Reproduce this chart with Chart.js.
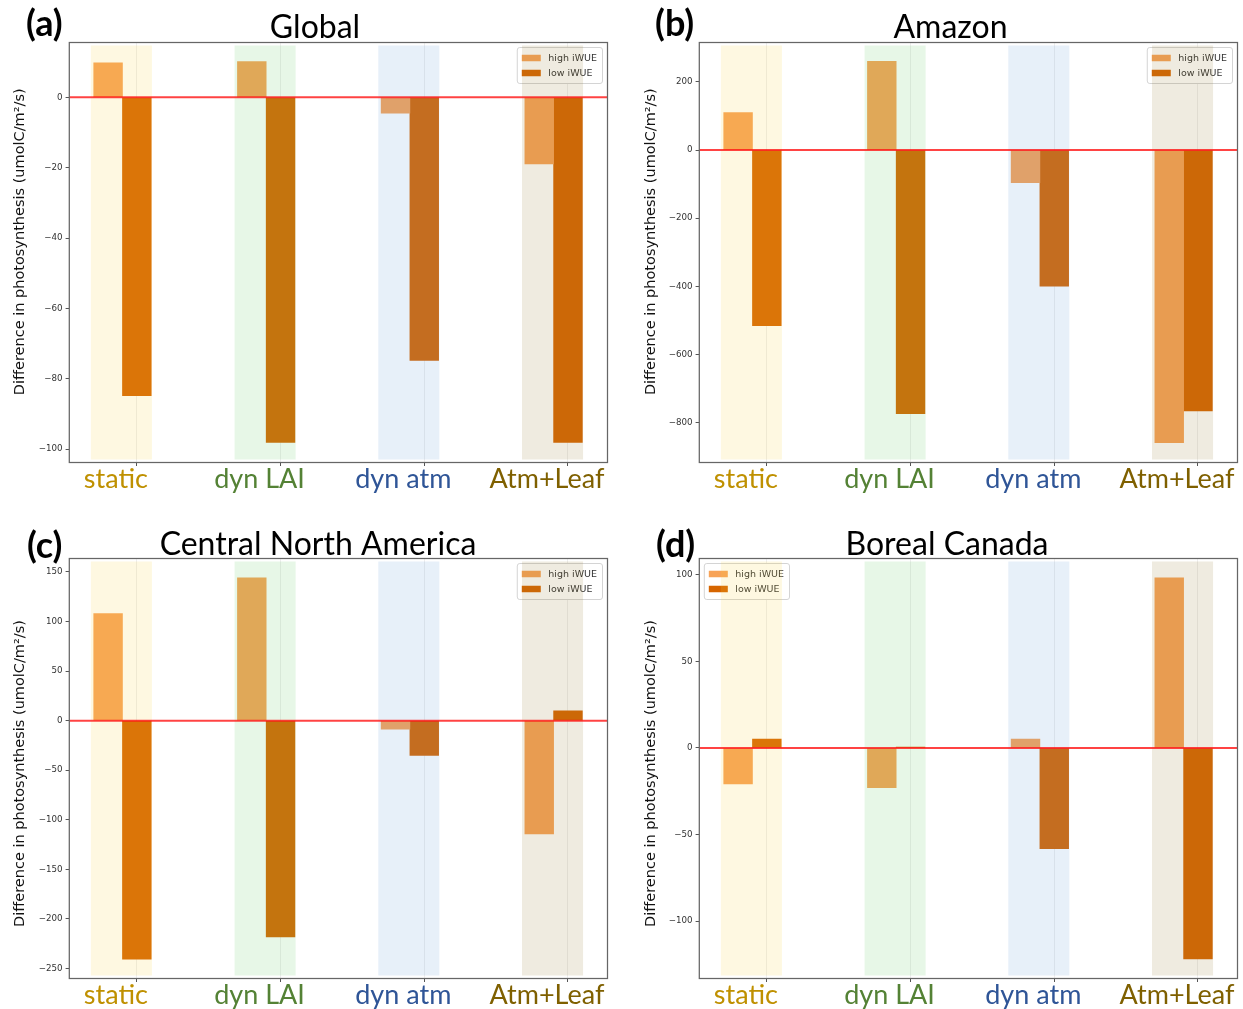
<!DOCTYPE html>
<html>
<head>
<meta charset="utf-8">
<title>Difference in photosynthesis by experiment</title>
<script src="https://cdn.jsdelivr.net/npm/chart.js@4.4.1/dist/chart.umd.min.js"></script>
<style>
  html, body { margin: 0; padding: 0; background: #fff; }
  #fig { position: relative; width: 1243px; height: 1009px; overflow: hidden; background: #fff; }
  .panel { position: absolute; width: 621px; height: 505px; }
  .panel canvas { display: block; }
</style>
</head>
<body>
<div id="fig">
  <div class="panel" style="left:0px;top:0px"><canvas id="pa" width="621" height="505"></canvas></div>
  <div class="panel" style="left:630px;top:0px"><canvas id="pb" width="621" height="505"></canvas></div>
  <div class="panel" style="left:0px;top:516px"><canvas id="pc" width="621" height="505"></canvas></div>
  <div class="panel" style="left:630px;top:516px"><canvas id="pd" width="621" height="505"></canvas></div>
</div>
<script>
// ---- data ---------------------------------------------------------------
const categories = ['static', 'dyn LAI', 'dyn atm', 'Atm+Leaf'];
const seriesNames = ['high iWUE', 'low iWUE'];

const globalHigh = [9.8, 10.2, -4.5, -18.9];
const globalLow = [-84.8, -98.1, -74.8, -98.1];

const amazonHigh = [110, 261, -96, -859];
const amazonLow = [-516, -774, -400, -766];

const centralNAHigh = [108, 144, -8.7, -114.4];
const centralNALow = [-240.7, -218.2, -35, 9.8];

const borealHigh = [-20.8, -22.9, 5.2, 98.3];
const borealLow = [5.2, 0.5, -58.2, -121.8];

const globalTicks = [0, -20, -40, -60, -80, -100];
const amazonTicks = [200, 0, -200, -400, -600, -800];
const centralNATicks = [150, 100, 50, 0, -50, -100, -150, -200, -250];
const borealTicks = [100, 50, 0, -50, -100];

const globalRange = [-103.8, 15.6];
const amazonRange = [-917.6, 316];
const centralNARange = [-260.2, 163.6];
const borealRange = [-133.1, 109.4];

// ---- styling -------------------------------------------------------------
const categoryColors = ['#BF9000', '#548235', '#2F5597', '#7F6000'];
const highColor = '#f7a358';
const lowColor = '#d66500';
// translucent experiment bands, laid over the bars
const spanColors = ['rgba(248,208,55,0.15)', 'rgba(95,202,95,0.15)',
                    'rgba(95,155,215,0.15)', 'rgba(148,122,48,0.15)'];
const yTitle = 'Difference in photosynthesis (umolC/m\u00B2/s)';

const panels = [
  { id: 'pa', letter: '(a)', title: 'Global', high: globalHigh, low: globalLow,
    ticks: globalTicks, range: globalRange, legendSide: 'right',
    letterX: 26, letterY: 36, titleX: 315, titleY: 37.7, yTitleX: 19.8, yTitleShift: -10.7 },
  { id: 'pb', letter: '(b)', title: 'Amazon', high: amazonHigh, low: amazonLow,
    ticks: amazonTicks, range: amazonRange, legendSide: 'right',
    letterX: 25, letterY: 36, titleX: 320.5, titleY: 37.5, yTitleX: 21.5, yTitleShift: -10.8 },
  { id: 'pc', letter: '(c)', title: 'Central North America', high: centralNAHigh, low: centralNALow,
    ticks: centralNATicks, range: centralNARange, legendSide: 'right',
    letterX: 27, letterY: 41.5, titleX: 318, titleY: 38.8, yTitleX: 19.8, yTitleShift: 5 },
  { id: 'pd', letter: '(d)', title: 'Boreal Canada', high: borealHigh, low: borealLow,
    ticks: borealTicks, range: borealRange, legendSide: 'left',
    letterX: 26, letterY: 41, titleX: 317, titleY: 38.8, yTitleX: 21.5, yTitleShift: 5 }
];

const X_MIN = -0.47, X_MAX = 3.275;   // category axis limits
const HIGH_SHIFT = -0.2;               // high-iWUE bar sits one bar-width left of the tick
const SPAN_FROM = -0.32, SPAN_TO = 0.105;

const minus = v => (v < 0 ? '\u2212' + Math.abs(v) : String(v));

function drawLegend(chart, opts) {
  const { ctx, chartArea: a } = chart;
  const fontSize = 9.5;
  ctx.save();
  ctx.font = fontSize + 'px "DejaVu Sans"';
  const labels = chart.data.datasets.map(d => d.label);
  const textW = Math.max(...labels.map(t => ctx.measureText(t).width));
  const pad = 4.5, handleW = 19, handleH = 6.5, gap = 7.5, rowH = 15;
  const w = pad + handleW + gap + textW + pad + 1;
  const h = pad * 2 + rowH * labels.length - 3;
  const left = opts.legendSide === 'left' ? a.left + 5 : a.right - 5 - w;
  const top = a.top + 5;
  ctx.beginPath();
  ctx.roundRect(left, top, w, h, 2.5);
  ctx.fillStyle = 'rgba(255,255,255,0.85)';
  ctx.fill();
  ctx.strokeStyle = '#d4d4d4';
  ctx.lineWidth = 1;
  ctx.stroke();
  chart.data.datasets.forEach((d, k) => {
    const cy = top + pad + 6 + k * rowH;
    ctx.fillStyle = d.backgroundColor;
    ctx.fillRect(left + pad, cy - handleH / 2, handleW, handleH);
    ctx.fillStyle = '#333';
    ctx.textAlign = 'left';
    ctx.textBaseline = 'middle';
    ctx.fillText(d.label, left + pad + handleW + gap, cy + 0.5);
  });
  ctx.restore();
}

const panelDecor = {
  id: 'panelDecor',
  afterDatasetsDraw(chart, args, opts) {
    const { ctx, chartArea: a, scales: { x, y } } = chart;
    drawLegend(chart, opts);
    ctx.save();
    // experiment bands
    spanColors.forEach((c, i) => {
      const l = x.getPixelForValue(i + SPAN_FROM);
      const r = x.getPixelForValue(i + SPAN_TO);
      ctx.fillStyle = c;
      ctx.fillRect(l, a.top + 3, r - l, a.bottom - a.top - 6);
    });
    // zero reference line
    const y0 = y.getPixelForValue(0);
    ctx.strokeStyle = 'rgba(255,20,20,0.8)';
    ctx.lineWidth = 2;
    ctx.beginPath();
    ctx.moveTo(a.left, y0);
    ctx.lineTo(a.right, y0);
    ctx.stroke();
    ctx.restore();
  },
  afterDraw(chart, args, opts) {
    const { ctx, chartArea: a } = chart;
    ctx.save();
    // axes frame
    ctx.strokeStyle = '#666';
    ctx.lineWidth = 1.25;
    ctx.strokeRect(a.left, a.top, a.right - a.left, a.bottom - a.top);
    // y-axis title
    ctx.fillStyle = '#111';
    ctx.font = '14.5px "DejaVu Sans"';
    ctx.textAlign = 'center';
    ctx.textBaseline = 'middle';
    ctx.translate(opts.yTitleX, (a.top + a.bottom) / 2 + opts.yTitleShift);
    ctx.rotate(-Math.PI / 2);
    ctx.fillText(yTitle, 0, 0);
    ctx.setTransform(1, 0, 0, 1, 0, 0);
    // panel letter and region title
    ctx.fillStyle = '#000';
    ctx.textBaseline = 'alphabetic';
    ctx.textAlign = 'left';
    ctx.font = 'bold 36px Lato';
    ctx.fillText(opts.letter, opts.letterX, opts.letterY);
    ctx.textAlign = 'center';
    ctx.font = '32px Lato';
    ctx.fillText(opts.title, opts.titleX, opts.titleY);
    ctx.restore();
  }
};

function makeChart(p) {
  return new Chart(document.getElementById(p.id), {
    type: 'bar',
    data: {
      datasets: [
        { label: seriesNames[0], backgroundColor: highColor,
          data: p.high.map((v, i) => ({ x: i + HIGH_SHIFT, y: v })) },
        { label: seriesNames[1], backgroundColor: lowColor,
          data: p.low.map((v, i) => ({ x: i, y: v })) }
      ]
    },
    options: {
      responsive: false,
      animation: false,
      events: [],
      datasets: { bar: { grouped: false, categoryPercentage: 1, barPercentage: 1, borderWidth: 0 } },
      layout: { padding: { top: 42.5, right: 13.5, bottom: 0, left: 0 } },
      plugins: {
        legend: { display: false },
        title: { display: false },
        tooltip: { enabled: false },
        panelDecor: p
      },
      scales: {
        x: {
          type: 'linear', min: X_MIN, max: X_MAX, offset: false, z: 1,
          afterBuildTicks: s => { s.ticks = categories.map((c, i) => ({ value: i })); },
          afterFit: s => { s.height = 42.5; s.paddingLeft = 0; s.paddingRight = 0; },
          border: { display: false },
          grid: { offset: false, drawOnChartArea: true, color: 'rgba(170,170,170,0.2)', lineWidth: 1,
                  tickColor: '#555', tickLength: 3.5, tickWidth: 1 },
          ticks: {
            autoSkip: false, maxRotation: 0, minRotation: 0, labelOffset: -21, padding: 0,
            callback: v => categories[v],
            color: c => categoryColors[c.index],
            font: { family: 'Lato', size: 27, lineHeight: 1 }
          }
        },
        y: {
          type: 'linear', min: p.range[0], max: p.range[1],
          afterBuildTicks: s => { s.ticks = p.ticks.map(v => ({ value: v })); },
          afterFit: s => { s.width = 69.3; s.paddingTop = 0; s.paddingBottom = 0; },
          border: { display: false },
          grid: { drawOnChartArea: false, tickColor: '#555', tickLength: 3.7, tickWidth: 1 },
          ticks: {
            padding: 3, color: '#333',
            font: { family: 'DejaVu Sans', size: 8.7 },
            callback: v => minus(v)
          }
        }
      }
    },
    plugins: [panelDecor]
  });
}

Promise.all([
  document.fonts.load('27px Lato'),
  document.fonts.load('bold 36px Lato'),
  document.fonts.load('10px "DejaVu Sans"')
]).catch(() => {}).then(() => panels.forEach(makeChart));
</script>
</body>
</html>
